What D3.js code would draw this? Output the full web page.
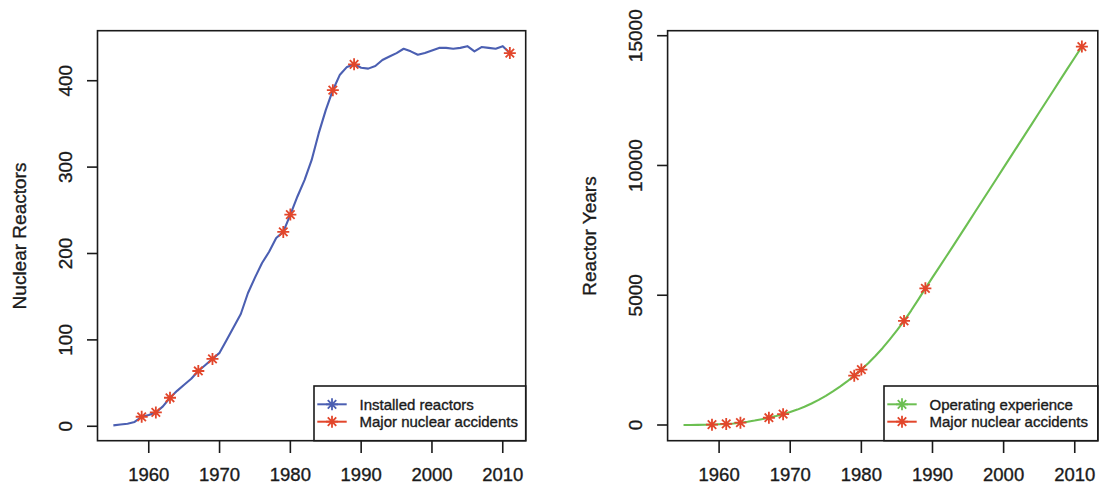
<!DOCTYPE html>
<html lang="en">
<head>
<meta charset="UTF-8">
<title>Nuclear reactors and accidents</title>
<script src="https://d3js.org/d3.v7.min.js"></script>
<style>
  body { margin: 0; background: #fff; }
  svg text { font-family: "Liberation Sans", Arial, sans-serif; fill: #1a1a1a; stroke: #1a1a1a; stroke-width: 0.35; }
</style>
</head>
<body>
<svg id="chart" width="1099" height="486"></svg>
<script>
// ---- data ----
const years = d3.range(1955, 2012);

const installedReactors = [
  1, 2, 3, 5, 11, 13, 16, 23, 33, 41,
  48, 55, 64, 71, 78, 85, 100, 115, 130, 154,
  172, 189, 202, 218, 225, 245, 266, 285, 308, 339,
  366, 389, 407, 416, 419, 415, 414, 417, 424, 428,
  432, 437, 434, 430, 432, 435, 438, 438, 437, 438,
  440, 434, 439, 438, 437, 440, 432
];

const reactorYears = [
  0, 1, 3, 7, 14, 26, 40, 60, 88, 125,
  170, 222, 280, 345, 418, 498, 593, 703, 828, 968,
  1123, 1293, 1478, 1678, 1900, 2135, 2390, 2670, 2970, 3300,
  3645, 4010, 4410, 4830, 5265, 5690, 6105, 6520, 6940, 7365,
  7790, 8215, 8640, 9065, 9490, 9915, 10340, 10765, 11190, 11615,
  12040, 12465, 12890, 13315, 13740, 14160, 14580
];

const accidentYears = [1959, 1961, 1963, 1967, 1969, 1979, 1980, 1986, 1989, 2011];

const xTicks = [1960, 1970, 1980, 1990, 2000, 2010];
const leftYTicks = [0, 100, 200, 300, 400];
const rightYTicks = [0, 5000, 10000, 15000];

const BLUE = "#4b5fb2";
const GREEN = "#6cbf52";
const RED = "#e2462b";
const INK = "#1a1a1a";

const svg = d3.select("#chart");

// asterisk marker like R's pch = 8
function star(g, cx, cy, color) {
  const r = 6, d = r * Math.SQRT1_2;
  g.append("path")
    .attr("d", `M${cx - r},${cy}H${cx + r}M${cx},${cy - r}V${cy + r}` +
               `M${cx - d},${cy - d}L${cx + d},${cy + d}M${cx - d},${cy + d}L${cx + d},${cy - d}`)
    .attr("stroke", color)
    .attr("stroke-width", 1.8)
    .attr("fill", "none");
}

function panel(opt) {
  const g = svg.append("g");
  const x = d3.scaleLinear().domain([1952.76, 2013.24]).range([opt.left, opt.right]);
  const y = d3.scaleLinear().domain(opt.yDomain).range([440.7, 30.7]);

  // series line
  const line = d3.line().x((d, i) => x(years[i])).y(d => y(d));
  g.append("path")
    .datum(opt.values)
    .attr("d", line)
    .attr("fill", "none")
    .attr("stroke", opt.color)
    .attr("stroke-width", 2.1)
    .attr("stroke-linejoin", "round");

  // accident markers on the curve
  accidentYears.forEach(yr => {
    const v = opt.values[years.indexOf(yr)];
    star(g, x(yr), y(v), RED);
  });

  // frame
  g.append("rect")
    .attr("x", opt.left).attr("y", 30.7)
    .attr("width", opt.right - opt.left).attr("height", 410)
    .attr("fill", "none").attr("stroke", INK).attr("stroke-width", 1.6);

  // x axis
  xTicks.forEach(t => {
    g.append("line")
      .attr("x1", x(t)).attr("x2", x(t))
      .attr("y1", 440.7).attr("y2", 453)
      .attr("stroke", INK).attr("stroke-width", 1.6);
    g.append("text")
      .attr("x", x(t)).attr("y", 481)
      .attr("text-anchor", "middle")
      .attr("font-size", 18.5)
      .text(t);
  });

  // y axis
  opt.yTicks.forEach(t => {
    g.append("line")
      .attr("x1", opt.left).attr("x2", opt.left - 10.5)
      .attr("y1", y(t)).attr("y2", y(t))
      .attr("stroke", INK).attr("stroke-width", 1.6);
    g.append("text")
      .attr("transform", `translate(${opt.tickBase},${y(t)}) rotate(-90)`)
      .attr("text-anchor", "middle")
      .attr("font-size", 19)
      .text(t);
  });
  g.append("text")
    .attr("transform", `translate(${opt.titleBase},236) rotate(-90)`)
    .attr("text-anchor", "middle")
    .attr("font-size", 19)
    .text(opt.title);

  // legend
  const lx = opt.legendLeft;
  g.append("rect")
    .attr("x", lx).attr("y", 386)
    .attr("width", opt.right - lx).attr("height", 440.7 - 386)
    .attr("fill", "#fff").attr("stroke", INK).attr("stroke-width", 1.6);
  const items = [[opt.label, opt.color], ["Major nuclear accidents", RED]];
  items.forEach(([txt, col], i) => {
    const ly = 404.3 + i * 17.4;
    g.append("line")
      .attr("x1", lx + 3.3).attr("x2", lx + 32.7)
      .attr("y1", ly).attr("y2", ly)
      .attr("stroke", col).attr("stroke-width", 2);
    star(g, lx + 18, ly, col);
    g.append("text")
      .attr("x", lx + 45.5).attr("y", ly + 5.3)
      .attr("font-size", 15)
      .text(txt);
  });
}

panel({
  left: 97.5, right: 525.7,
  yDomain: [-16.7, 457.9],
  values: installedReactors,
  color: BLUE,
  yTicks: leftYTicks,
  tickBase: 71.8,
  titleBase: 26,
  title: "Nuclear Reactors",
  legendLeft: 314,
  label: "Installed reactors"
});

panel({
  left: 667.6, right: 1097.8,
  yDomain: [-605, 15193],
  values: reactorYears,
  color: GREEN,
  yTicks: rightYTicks,
  tickBase: 641.7,
  titleBase: 596,
  title: "Reactor Years",
  legendLeft: 884,
  label: "Operating experience"
});
</script>
</body>
</html>
